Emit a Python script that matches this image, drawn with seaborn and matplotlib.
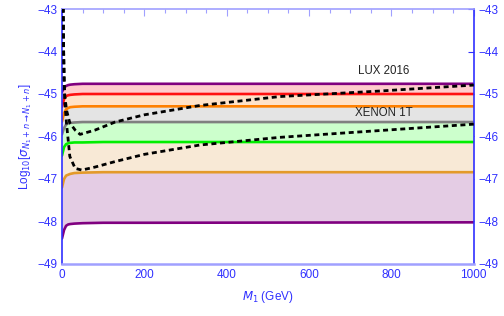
import numpy as np
import matplotlib
matplotlib.use("Agg")
import matplotlib.pyplot as plt
import seaborn as sns
from matplotlib.ticker import MultipleLocator

# ==============================
# DATA
# ==============================

M1_BAND = [0, 5, 10, 15, 20, 30, 50, 100, 200, 1000]

PURPLE_HI = [-44.95, -44.85, -44.81, -44.79, -44.78, -44.77, -44.76, -44.76, -44.76, -44.76]
RED       = [-45.30, -45.12, -45.05, -45.03, -45.02, -45.01, -45.00, -45.00, -45.00, -45.00]
ORANGE_HI = [-45.65, -45.45, -45.36, -45.33, -45.31, -45.30, -45.29, -45.29, -45.29, -45.29]
GRAY      = [-45.95, -45.80, -45.72, -45.69, -45.68, -45.67, -45.66, -45.66, -45.66, -45.66]
GREEN     = [-46.45, -46.25, -46.18, -46.16, -46.15, -46.14, -46.14, -46.13, -46.13, -46.13]
ORANGE_LO = [-47.20, -47.00, -46.92, -46.90, -46.88, -46.86, -46.85, -46.84, -46.84, -46.84]
PURPLE_LO = [-48.40, -48.20, -48.10, -48.07, -48.06, -48.05, -48.04, -48.03, -48.03, -48.02]

M1_DASH_A = [2.5, 3, 4, 5.5, 7, 11, 19, 32, 44, 80, 129, 200, 335, 529, 772, 1000]
DASH_A    = [-42.6, -43.0, -44.0, -44.8, -45.06, -45.38, -45.68, -45.85, -45.95, -45.85,
             -45.66, -45.49, -45.27, -45.06, -44.93, -44.79]

M1_DASH_B = [2.5, 3, 4, 5.5, 7, 11, 15, 19, 32, 48, 80, 129, 200, 335, 529, 772, 1000]
DASH_B    = [-42.6, -43.0, -44.0, -44.8, -45.2, -45.7, -46.08, -46.47, -46.75, -46.79,
             -46.72, -46.59, -46.42, -46.20, -46.02, -45.86, -45.71]

LINES = [
    (PURPLE_HI, "#800080"),
    (RED, "#ff1010"),
    (ORANGE_HI, "#ff8000"),
    (GRAY, "#808080"),
    (GREEN, "#00ee00"),
    (ORANGE_LO, "#e39a2a"),
    (PURPLE_LO, "#800080"),
]
FILLS = ["#ffcccc", "#ffe2c8", "#e4e4e4", "#ccffcc", "#f8e9d6", "#e4cce4"]

# ==============================
# PLOT
# ==============================

sns.set_style("white")
plt.rcParams["font.family"] = ["Liberation Sans", "DejaVu Sans"]
plt.rcParams["mathtext.fontset"] = "dejavusans"

BLUE = "#3030ff"
LIGHT = "#a0a0ff"

fig = plt.figure(figsize=(5.04, 3.16), dpi=100)
ax = fig.add_axes([0.123, 0.1646, 0.817, 0.8069])

for i, col in enumerate(FILLS):
    ax.fill_between(M1_BAND, LINES[i][0], LINES[i + 1][0], color=col, lw=0, zorder=1)

for vals, col in LINES:
    sns.lineplot(x=M1_BAND, y=vals, color=col, lw=1.9, ax=ax, zorder=2)

for xs, ys in [(M1_DASH_A, DASH_A), (M1_DASH_B, DASH_B)]:
    sns.lineplot(x=xs, y=ys, color="black", lw=2.0,
                 linestyle=(0, (1.8, 1.3)), ax=ax, zorder=3)

ax.text(782, -44.46, "LUX 2016", ha="center", va="center", fontsize=8.3, color="#222222")
ax.text(782, -45.45, "XENON 1T", ha="center", va="center", fontsize=8.3, color="#222222")

ax.set_xlim(0, 1000)
ax.set_ylim(-49, -43)
ax.xaxis.set_major_locator(MultipleLocator(200))
ax.xaxis.set_minor_locator(MultipleLocator(50))
ax.yaxis.set_major_locator(MultipleLocator(1))

ax.tick_params(axis="both", which="both", direction="in", colors=BLUE,
               labelcolor=BLUE, labelsize=8.5, top=True, right=True,
               labelright=True)
ax.tick_params(axis="x", which="major", length=5, width=0.8, color=LIGHT)
ax.tick_params(axis="x", which="minor", length=3, width=0.8, color=LIGHT)
ax.tick_params(axis="y", which="major", length=4, width=0.8, color=BLUE)

ax.spines["left"].set_color(BLUE)
ax.spines["right"].set_color(BLUE)
ax.spines["top"].set_color(LIGHT)
ax.spines["bottom"].set_color(LIGHT)
for s in ax.spines.values():
    s.set_linewidth(1.2)
ax.spines["bottom"].set_linewidth(1.8)

ax.set_xlabel(r"$M_1$ (GeV)", color=BLUE, fontsize=8.5, labelpad=6)
ax.set_ylabel(r"Log$_{10}$[$\sigma_{N_1+n\rightarrow N_1+n}$]", color=BLUE,
              fontsize=8.5, labelpad=2)

fig.savefig("out.png", dpi=100)
